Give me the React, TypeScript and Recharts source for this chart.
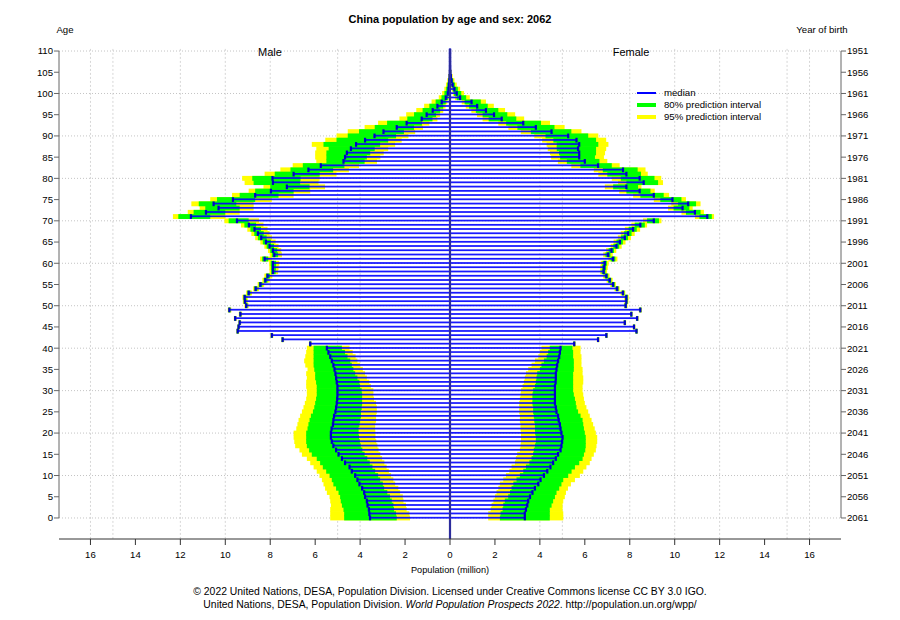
import React from 'react'
import { ComposedChart, Bar, XAxis, YAxis, ReferenceLine, CartesianGrid } from 'recharts'

// ages 0..110, values in millions
const ages = Array.from({ length: 111 }, (_, i) => i)

const maleMedian = [
  3.56, 3.59, 3.61, 3.67, 3.7, 3.78, 3.82, 3.91, 4.03, 4.12,
  4.22, 4.37, 4.47, 4.67, 4.81, 4.96, 5.07, 5.19, 5.26, 5.3,
  5.3, 5.27, 5.21, 5.19, 5.16, 5.1, 5.07, 5.04, 5.02, 5.01,
  5.01, 5.01, 5.04, 5.07, 5.1, 5.14, 5.19, 5.26, 5.33, 5.41,
  5.48, 6.22, 7.45, 7.93, 9.45, 9.41, 9.36, 9.56, 9.33, 9.82,
  9.07, 9.13, 9.14, 8.96, 8.65, 8.44, 8.22, 8.12, 7.88, 7.88,
  7.88, 8.25, 7.82, 7.88, 8.03, 8.19, 8.4, 8.55, 8.7, 8.95,
  9.48, 11.53, 10.86, 10.3, 10.52, 9.66, 8.67, 7.97, 7.26, 7.88,
  7.9, 6.96, 6.3, 5.75, 4.74, 4.67, 4.59, 4.41, 4.18, 3.78,
  3.36, 2.96, 2.37, 1.93, 1.26, 1.04, 0.77, 0.56, 0.37, 0.19,
  0.1, 0.07, 0.05, 0.03, 0.02, 0.01, 0.005, 0.003, 0.002, 0.001, 0,
]
const maleHi95 = [
  5.33, 5.33, 5.33, 5.3, 5.33, 5.36, 5.48, 5.56, 5.63, 5.7,
  5.81, 5.93, 6.07, 6.22, 6.37, 6.59, 6.7, 6.89, 6.93, 6.96,
  6.96, 6.84, 6.79, 6.74, 6.67, 6.59, 6.52, 6.46, 6.4, 6.37,
  6.37, 6.4, 6.4, 6.37, 6.4, 6.34, 6.44, 6.49, 6.44, 6.4,
  6.37, 6.28, 7.51, 7.99, 9.51, 9.47, 9.42, 9.62, 9.4, 9.89,
  9.15, 9.22, 9.24, 9.07, 8.76, 8.56, 8.35, 8.26, 8.03, 8.04,
  8.05, 8.45, 8.02, 8.1, 8.26, 8.44, 8.67, 8.84, 9.02, 9.3,
  10.04, 12.33, 11.67, 11.14, 11.51, 10.67, 9.7, 8.96, 8.3, 9.14,
  9.25, 8.25, 7.55, 7.0, 5.95, 6.0, 6.0, 5.95, 6.15, 5.55,
  5.05, 4.55, 3.8, 3.2, 2.25, 1.95, 1.5, 1.15, 0.82, 0.5,
  0.35, 0.25, 0.18, 0.12, 0.08, 0.05, 0.03, 0.02, 0.01, 0.01, 0.005,
]
const maleHi80 = [
  4.71, 4.71, 4.74, 4.81, 4.86, 4.89, 4.96, 5.07, 5.19, 5.26,
  5.36, 5.51, 5.66, 5.78, 5.93, 6.15, 6.27, 6.37, 6.4, 6.4,
  6.4, 6.34, 6.3, 6.25, 6.19, 6.1, 6.04, 6.0, 5.96, 5.93,
  5.93, 5.93, 5.96, 6.0, 6.0, 6.04, 6.07, 6.07, 6.07, 6.07,
  6.07, 6.26, 7.49, 7.97, 9.49, 9.45, 9.4, 9.6, 9.37, 9.86,
  9.12, 9.18, 9.19, 9.02, 8.71, 8.51, 8.29, 8.19, 7.96, 7.97,
  7.98, 8.36, 7.93, 8.0, 8.16, 8.33, 8.55, 8.71, 8.88, 9.15,
  9.85, 12.09, 11.41, 10.89, 11.18, 10.37, 9.36, 8.67, 8.0, 8.74,
  8.8, 7.8, 7.1, 6.55, 5.5, 5.5, 5.5, 5.4, 5.63, 5.05,
  4.55, 4.05, 3.35, 2.8, 1.9, 1.6, 1.22, 0.92, 0.64, 0.38,
  0.25, 0.17, 0.12, 0.08, 0.05, 0.03, 0.02, 0.01, 0.005, 0, 0,
]
const maleLo80 = [
  2.37, 2.4, 2.49, 2.52, 2.59, 2.67, 2.79, 2.93, 2.99, 3.11,
  3.2, 3.33, 3.45, 3.57, 3.68, 3.8, 3.9, 3.97, 4.01, 4.05,
  4.07, 4.07, 4.03, 4.0, 3.96, 3.96, 3.93, 3.91, 3.91, 3.91,
  3.93, 4.0, 4.03, 4.12, 4.22, 4.3, 4.37, 4.44, 4.56, 4.67,
  4.81, 6.18, 7.41, 7.89, 9.41, 9.37, 9.32, 9.52, 9.29, 9.77,
  9.01, 9.06, 9.06, 8.88, 8.57, 8.35, 8.12, 8.01, 7.76, 7.75,
  7.74, 8.09, 7.65, 7.69, 7.83, 7.97, 8.16, 8.29, 8.41, 8.63,
  8.96, 10.67, 10.0, 9.36, 9.51, 8.67, 7.63, 6.96, 6.25, 6.67,
  6.65, 5.8, 5.2, 4.7, 3.8, 3.7, 3.55, 3.35, 3.11, 2.75,
  2.4, 2.05, 1.6, 1.25, 0.78, 0.62, 0.44, 0.3, 0.19, 0.09,
  0.04, 0.03, 0.02, 0.01, 0.01, 0, 0, 0, 0, 0, 0,
]
const maleLo95 = [
  1.78, 1.81, 1.93, 1.96, 2.07, 2.1, 2.22, 2.3, 2.44, 2.52,
  2.62, 2.72, 2.82, 2.92, 3.02, 3.1, 3.18, 3.23, 3.28, 3.32,
  3.32, 3.33, 3.33, 3.29, 3.29, 3.26, 3.26, 3.29, 3.38, 3.41,
  3.41, 3.52, 3.59, 3.7, 3.78, 3.88, 4.0, 4.12, 4.2, 4.33,
  4.47, 6.15, 7.38, 7.86, 9.38, 9.34, 9.29, 9.49, 9.25, 9.73,
  8.96, 9.0, 9.0, 8.81, 8.5, 8.27, 8.03, 7.91, 7.65, 7.63,
  7.6, 7.93, 7.48, 7.51, 7.63, 7.76, 7.92, 8.03, 8.12, 8.3,
  8.5, 10.0, 9.36, 8.74, 8.74, 7.93, 6.96, 6.22, 5.56, 5.85,
  5.8, 5.05, 4.5, 4.05, 3.25, 3.1, 2.95, 2.75, 2.44, 2.15,
  1.85, 1.55, 1.2, 0.92, 0.56, 0.44, 0.3, 0.2, 0.12, 0.05,
  0.02, 0.01, 0.01, 0, 0, 0, 0, 0, 0, 0, 0,
]

const femaleMedian = [
  3.33, 3.33, 3.38, 3.44, 3.48, 3.56, 3.67, 3.78, 3.93, 4.03,
  4.18, 4.33, 4.47, 4.59, 4.71, 4.81, 4.92, 4.96, 4.99, 5.01,
  4.96, 4.92, 4.89, 4.84, 4.81, 4.74, 4.71, 4.67, 4.67, 4.67,
  4.67, 4.67, 4.7, 4.71, 4.71, 4.74, 4.77, 4.81, 4.86, 4.89,
  4.92, 5.53, 6.59, 6.96, 8.3, 8.19, 7.78, 8.33, 8.07, 8.47,
  7.82, 7.85, 7.85, 7.7, 7.44, 7.26, 7.11, 6.96, 6.84, 6.86,
  6.89, 7.26, 7.04, 7.19, 7.41, 7.56, 7.78, 7.93, 8.15, 8.47,
  9.07, 11.45, 10.9, 10.35, 10.6, 9.9, 9.07, 8.44, 7.85, 8.62,
  8.44, 7.85, 7.7, 6.59, 6.0, 5.75, 5.75, 5.7, 5.75, 5.63,
  5.26, 4.52, 3.82, 3.26, 2.3, 1.96, 1.6, 1.21, 0.96, 0.45,
  0.3, 0.2, 0.12, 0.07, 0.04, 0.02, 0.01, 0.005, 0.003, 0.002, 0.001,
]
const femaleHi95 = [
  5.04, 5.04, 5.01, 5.01, 5.04, 5.11, 5.16, 5.25, 5.38, 5.56,
  5.78, 5.93, 6.07, 6.22, 6.3, 6.4, 6.49, 6.52, 6.55, 6.55,
  6.49, 6.44, 6.37, 6.3, 6.22, 6.15, 6.07, 6.0, 5.96, 5.93,
  5.9, 5.9, 5.93, 5.93, 5.9, 5.9, 5.85, 5.85, 5.85, 5.81,
  5.81, 5.59, 6.65, 7.02, 8.36, 8.25, 7.84, 8.39, 8.13, 8.54,
  7.9, 7.94, 7.95, 7.8, 7.55, 7.38, 7.24, 7.1, 6.99, 7.02,
  7.06, 7.45, 7.24, 7.4, 7.64, 7.81, 8.05, 8.22, 8.46, 8.77,
  9.41, 11.75, 11.3, 10.8, 11.15, 10.5, 9.75, 9.11, 8.52, 9.48,
  9.4, 8.8, 8.7, 7.55, 7.0, 6.85, 6.9, 6.95, 7.05, 6.95,
  6.6, 5.85, 5.1, 4.45, 3.3, 2.9, 2.45, 1.95, 1.6, 0.88,
  0.62, 0.45, 0.3, 0.2, 0.12, 0.07, 0.04, 0.02, 0.01, 0.01, 0.005,
]
const femaleHi80 = [
  4.44, 4.44, 4.44, 4.52, 4.59, 4.67, 4.74, 4.86, 4.96, 5.04,
  5.26, 5.41, 5.56, 5.75, 5.9, 5.96, 6.02, 6.04, 6.04, 6.04,
  6.0, 5.96, 5.93, 5.9, 5.81, 5.7, 5.63, 5.6, 5.56, 5.51,
  5.48, 5.48, 5.48, 5.48, 5.48, 5.51, 5.51, 5.51, 5.48, 5.48,
  5.45, 5.57, 6.63, 7.0, 8.34, 8.23, 7.82, 8.37, 8.11, 8.51,
  7.87, 7.9, 7.91, 7.76, 7.5, 7.33, 7.18, 7.04, 6.92, 6.95,
  6.98, 7.36, 7.14, 7.3, 7.53, 7.69, 7.92, 8.08, 8.31, 8.67,
  9.3, 11.65, 11.15, 10.65, 10.95, 10.3, 9.51, 8.92, 8.37, 9.26,
  9.1, 8.5, 8.35, 7.2, 6.65, 6.45, 6.5, 6.5, 6.6, 6.5,
  6.15, 5.4, 4.65, 4.05, 2.95, 2.55, 2.15, 1.68, 1.37, 0.72,
  0.5, 0.35, 0.22, 0.14, 0.08, 0.05, 0.03, 0.01, 0.005, 0, 0,
]
const femaleLo80 = [
  2.22, 2.25, 2.34, 2.37, 2.44, 2.59, 2.67, 2.74, 2.82, 2.96,
  3.11, 3.26, 3.38, 3.53, 3.63, 3.7, 3.73, 3.78, 3.82, 3.82,
  3.79, 3.78, 3.78, 3.75, 3.73, 3.7, 3.7, 3.67, 3.67, 3.67,
  3.7, 3.78, 3.82, 3.85, 3.88, 4.0, 4.07, 4.18, 4.3, 4.37,
  4.44, 5.49, 6.55, 6.92, 8.26, 8.15, 7.74, 8.29, 8.03, 8.43,
  7.77, 7.8, 7.79, 7.64, 7.37, 7.19, 7.03, 6.88, 6.75, 6.77,
  6.79, 7.15, 6.92, 7.06, 7.27, 7.41, 7.61, 7.75, 7.95, 8.22,
  8.77, 11.1, 10.5, 9.95, 10.15, 9.36, 8.47, 7.85, 7.26, 7.85,
  7.6, 7.0, 6.8, 5.8, 5.2, 4.9, 4.85, 4.75, 4.75, 4.6,
  4.25, 3.6, 3.0, 2.5, 1.72, 1.45, 1.15, 0.85, 0.65, 0.3,
  0.18, 0.12, 0.07, 0.04, 0.02, 0.01, 0, 0, 0, 0, 0,
]
const femaleLo95 = [
  1.7, 1.7, 1.81, 1.85, 1.93, 2.0, 2.07, 2.15, 2.22, 2.37,
  2.49, 2.64, 2.74, 2.89, 2.93, 2.99, 3.11, 3.14, 3.16, 3.16,
  3.16, 3.14, 3.14, 3.11, 3.11, 3.08, 3.08, 3.08, 3.11, 3.14,
  3.16, 3.23, 3.29, 3.33, 3.38, 3.48, 3.63, 3.78, 3.93, 4.0,
  4.07, 5.47, 6.53, 6.9, 8.24, 8.13, 7.72, 8.27, 8.01, 8.4,
  7.74, 7.76, 7.75, 7.59, 7.32, 7.13, 6.97, 6.81, 6.68, 6.69,
  6.71, 7.05, 6.82, 6.95, 7.15, 7.28, 7.47, 7.6, 7.78, 8.07,
  8.59, 10.9, 10.3, 9.7, 9.85, 9.07, 8.15, 7.53, 6.89, 7.48,
  7.2, 6.6, 6.4, 5.4, 4.8, 4.5, 4.45, 4.35, 4.3, 4.1,
  3.75, 3.15, 2.6, 2.15, 1.45, 1.2, 0.95, 0.7, 0.52, 0.22,
  0.13, 0.08, 0.05, 0.02, 0.01, 0, 0, 0, 0, 0, 0,
]

const ageTicks = [110, 105, 100, 95, 90, 85, 80, 75, 70, 65, 60, 55, 50, 45, 40, 35, 30, 25, 20, 15, 10, 5, 0]
const yearTicks = [
  '1951', '1956', '1961', '1966', '1971', '1976', '1981', '1986', '1991', '1996', '2001', '2006',
  '2011', '2016', '2021', '2026', '2031', '2036', '2041', '2046', '2051', '2056', '2061',
]
const xTicks = [-16, -14, -12, -10, -8, -6, -4, -2, 0, 2, 4, 6, 8, 10, 12, 14, 16]
const gridX = [-16, -15, -12, -10, -8, -5, -4, 4, 5, 8, 10, 12, 15, 16]
const gridAges = [110, 100, 90, 80, 70, 60, 50, 40, 30, 20, 10, 0]
const X_MAX = 17.4

const legendItems = [
  { label: 'median', color: '#0000ff', thick: 1.5 },
  { label: '80% prediction interval', color: '#00ff00', thick: 4 },
  { label: '95% prediction interval', color: '#ffff00', thick: 4 },
]

const rows = ages
  .slice()
  .reverse()
  .map((a) => ({
    age: a,
    m95: [-maleHi95[a], -maleLo95[a]],
    m80: [-maleHi80[a], -maleLo80[a]],
    mMed: -maleMedian[a],
    f95: [femaleLo95[a], femaleHi95[a]],
    f80: [femaleLo80[a], femaleHi80[a]],
    fMed: femaleMedian[a],
  }))

const BAR = 4.2
const FONT = '"Liberation Sans", Arial, Helvetica, sans-serif'

function BandShape(props: any) {
  const { x, y, width, height, fill } = props
  if (x == null || y == null) return null
  const left = Math.min(x, x + width)
  return <rect x={left} y={y - 0.35} width={Math.abs(width)} height={height + 0.7} fill={fill} />
}

function medianShape(outerLeft: boolean) {
  return function MedianShape(props: any) {
    const { x, y, width, height } = props
    if (x == null || y == null) return null
    const left = Math.min(x, x + width)
    const right = Math.max(x, x + width)
    const cy = y + height / 2
    const end = outerLeft ? left : right
    return (
      <g>
        <rect x={left} y={cy - 0.7} width={right - left} height={0.9} fill="none" stroke="#0000ff" strokeWidth={0.8} />
        <rect x={end - 1.1} y={y - 0.25} width={2.2} height={height + 0.5} fill="#0000c8" />
      </g>
    )
  }
}

function Label({ x, y, size, bold, children }: any) {
  return (
    <div
      style={{
        position: 'absolute',
        left: x,
        top: y,
        transform: 'translate(-50%, -50%)',
        fontSize: size,
        fontWeight: bold ? 'bold' : 'normal',
        lineHeight: 1,
        whiteSpace: 'nowrap',
      }}
    >
      {children}
    </div>
  )
}

export default function App() {
  const tickStyle = { fontSize: 9.6, fill: '#000' }
  return (
    <div
      style={{
        position: 'absolute',
        left: 0,
        top: 0,
        width: 900,
        height: 620,
        background: '#fff',
        fontFamily: FONT,
        color: '#000',
      }}
    >
      <ComposedChart
        width={900}
        height={620}
        data={rows}
        layout="vertical"
        margin={{ top: 48.9, right: 19, bottom: 51, left: 19 }}
        barGap={-BAR}
        barCategoryGap={0}
      >
        <CartesianGrid
          yAxisId="age"
          horizontal={false}
          verticalValues={gridX}
          stroke="#d6d6d6"
          strokeDasharray="2 2"
        />
        <XAxis
          type="number"
          domain={[-X_MAX, X_MAX]}
          allowDataOverflow
          ticks={xTicks}
          interval={0}
          tickFormatter={(v: number) => String(Math.abs(v))}
          axisLine={{ stroke: '#333' }}
          tickLine={{ stroke: '#333' }}
          tickSize={6}
          tickMargin={6}
          height={30}
          tick={tickStyle}
        />
        <YAxis
          yAxisId="age"
          type="category"
          dataKey="age"
          orientation="left"
          width={40}
          interval={4}
          axisLine={false}
          tickLine={{ stroke: '#666' }}
          tickSize={5}
          tickMargin={1}
          padding={{ top: 0, bottom: 18.9 }}
          tick={tickStyle}
        />
        <YAxis
          yAxisId="birth"
          type="category"
          dataKey="age"
          orientation="right"
          width={40}
          interval={4}
          axisLine={false}
          tickLine={{ stroke: '#666' }}
          tickSize={5}
          tickMargin={1}
          padding={{ top: 0, bottom: 18.9 }}
          tick={tickStyle}
          tickFormatter={(a: number) => yearTicks[ageTicks.indexOf(a)]}
        />

        {gridAges.map((a) => (
          <ReferenceLine
            key={'h' + a}
            yAxisId="age"
            y={a}
            stroke="#c4c4c4"
            strokeDasharray="1 2"
            zIndex={-10}
          />
        ))}

        <Bar yAxisId="age" dataKey="m95" fill="#ffff00" barSize={BAR} shape={BandShape} isAnimationActive={false} />
        <Bar yAxisId="age" dataKey="m80" fill="#00ff00" barSize={BAR} shape={BandShape} isAnimationActive={false} />
        <Bar yAxisId="age" dataKey="f95" fill="#ffff00" barSize={BAR} shape={BandShape} isAnimationActive={false} />
        <Bar yAxisId="age" dataKey="f80" fill="#00ff00" barSize={BAR} shape={BandShape} isAnimationActive={false} />
        <Bar yAxisId="age" dataKey="mMed" fill="#0000ff" barSize={BAR} shape={medianShape(true)} isAnimationActive={false} />
        <Bar yAxisId="age" dataKey="fMed" fill="#0000ff" barSize={BAR} shape={medianShape(false)} isAnimationActive={false} />

        <ReferenceLine yAxisId="age" x={0} stroke="#2c2c9c" strokeWidth={2.2} ifOverflow="visible" />
        <ReferenceLine
          yAxisId="age"
          segment={[{ x: -X_MAX, y: 110 }, { x: -X_MAX, y: 0 }]}
          stroke="#666"
          ifOverflow="visible"
        />
        <ReferenceLine
          yAxisId="age"
          segment={[{ x: X_MAX, y: 110 }, { x: X_MAX, y: 0 }]}
          stroke="#666"
          ifOverflow="visible"
        />
      </ComposedChart>

      <Label x={450} y={19} size={11} bold>
        China population by age and sex: 2062
      </Label>
      <Label x={65} y={30} size={9.6}>Age</Label>
      <Label x={822} y={30} size={9.6}>Year of birth</Label>
      <Label x={270} y={52} size={11}>Male</Label>
      <Label x={631} y={52} size={11}>Female</Label>
      <Label x={450} y={571} size={9.2}>Population (million)</Label>
      <Label x={450} y={592} size={10.4}>
        © 2022 United Nations, DESA, Population Division. Licensed under Creative Commons license CC BY 3.0 IGO.
      </Label>
      <Label x={450} y={605} size={10.4}>
        United Nations, DESA, Population Division. <i>World Population Prospects 2022</i>. http://population.un.org/wpp/
      </Label>

      <div style={{ position: 'absolute', left: 637, top: 87 }}>
        {legendItems.map((it, i) => (
          <div
            key={it.label}
            style={{
              position: 'absolute',
              top: i * 12,
              left: 0,
              height: 12,
              width: 200,
              display: 'flex',
              alignItems: 'center',
            }}
          >
            <span style={{ display: 'inline-block', width: 19, height: it.thick, background: it.color }} />
            <span style={{ marginLeft: 8, fontSize: 9.6, lineHeight: '12px', whiteSpace: 'nowrap' }}>{it.label}</span>
          </div>
        ))}
      </div>
    </div>
  )
}
